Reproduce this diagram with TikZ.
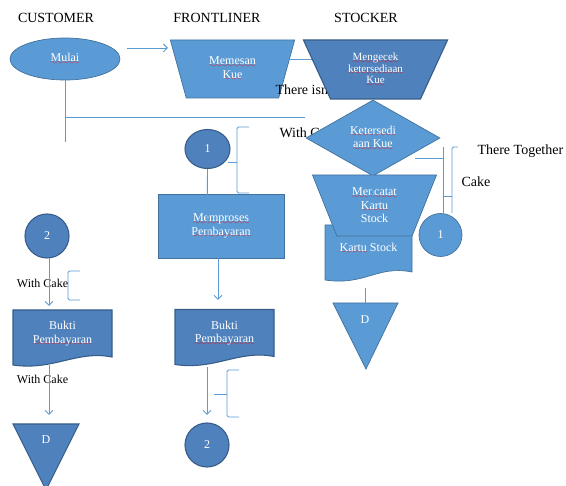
\documentclass[tikz,border=0pt]{standalone}
\usepackage{fontspec}
\setmainfont{Liberation Serif}
\usetikzlibrary{shapes.geometric,arrows.meta,backgrounds}

\definecolor{boxlight}{HTML}{5B9BD5}
\definecolor{edgelight}{HTML}{41719C}
\definecolor{boxdark}{HTML}{4F81BD}
\definecolor{edgedark}{HTML}{385D8A}
\definecolor{flowblue}{HTML}{5B9BD5}

% red spell-check wave under a word
\font\sqfont=lasy7
\newcommand{\sqw}[1]{\setbox0\hbox{#1}%
  \rlap{\textcolor{red}{\lower2.5pt\hbox to \wd0{\xleaders\hbox{\sqfont\char58}\hfill}}}\box0\relax}

% document symbol (wavy bottom) round a named node
\newcommand{\docsymbol}[2]{%
  \path[#2] (#1.north west) -- (#1.north east) -- (#1.south east)
    .. controls +(-35,-7) and +(40,6) .. ([shift={(0,8)}]#1.south west) -- cycle;}

\begin{document}
\begin{tikzpicture}[x=1pt,y=-1pt,
  title/.style={font=\fontsize{14}{16}\selectfont},
  note/.style={font=\fontsize{14}{16}\selectfont},
  small note/.style={font=\fontsize{12}{14}\selectfont},
  inbox/.style={align=center,text=white,font=\fontsize{12}{13.5}\selectfont,inner sep=1pt},
  light/.style={fill=boxlight,draw=edgelight,line width=0.7pt},
  dark/.style={fill=boxdark,draw=edgedark,line width=1.1pt},
  docnode/.style={inbox,rectangle,inner sep=0pt,outer sep=0pt,minimum width=99pt,minimum height=47pt},
  trap/.style={trapezium,trapezium stretches=true,shape border rotate=180},
  flowline/.style={draw=flowblue,line width=0.9pt},
  flowarrow/.style={flowline,-{Straight Barb[length=4pt,width=8pt]}},
  brace/.style={draw=flowblue,line width=0.9pt,rounded corners=1.5pt}]
 \useasboundingbox (0,0) rectangle (566,486);
 % lane titles
 \node (ttl cust) at (56,18) [title] {CUSTOMER};
 \node (ttl front) at (217,18) [title] {FRONTLINER};
 \node (ttl stock) at (366,18) [title] {STOCKER};
 % customer
 \node (cust 1) at (65,59) [light,ellipse,minimum width=110pt,minimum height=42pt,inbox] {\sqw{Mulai}};
 \node (cust 2) at (47,236) [dark,circle,minimum size=44pt,inbox] {2};
 \node (cust 3) at (62.5,333.5) [docnode] {Bukti\\\sqw{Pembayaran}};
 \coordinate (cust 4) at (46,424);
 \path[dark] (13,424) -- (79,424) -- (46,490) -- cycle;
 \node (cust 5) at (46,440) [inbox] {D};
 \draw[brace] (80,271) -- (68,271) -- (68,300) -- (80,300);
 \node (cust txt 1) at (42.5,283) [small note] {With Cake};
 \node (cust txt 2) at (42.5,379) [small note] {With Cake};
 % frontliner
 \node (front 1) at (232.5,69) [light,trap,trapezium angle=72,minimum width=125pt,minimum height=58pt,inbox] {\sqw{Memesan}\\\sqw{Kue}};
 \node (front 2) at (207.5,149) [dark,ellipse,minimum width=45pt,minimum height=39pt,inbox] {1};
 \node (front 3) at (221,226) [light,rectangle,minimum width=126pt,minimum height=64pt,inbox] {\sqw{Memproses}\\\sqw{Pembayaran}};
 \node (front 4) at (224.5,333) [docnode] {Bukti\\\sqw{Pembayaran}};
 \node (front 5) at (207,445) [dark,circle,minimum size=44pt,inbox] {2};
 \draw[brace] (249,127) -- (237,127) -- (237,193) -- (249,193);
 \draw[brace] (237,162) -- (228,162);
 \draw[brace] (239,370) -- (227,370) -- (227,417) -- (239,417);
 \draw[brace] (227,394) -- (214,394);
 % stocker
 \node (stock txt 1) at (276,133) [note,anchor=west] {With Cake};
 \node (stock txt 2) at (272,90) [note,anchor=west] {There isn};
 \node (stock 1) at (375.5,69.5) [dark,trap,trapezium angle=64,minimum width=145pt,minimum height=59pt,inbox,font=\fontsize{11}{11.5}\selectfont] {\sqw{Mengecek}\\\sqw{ketersediaan}\\\sqw{Kue}};
 \node (stock 2) at (373,138) [light,diamond,aspect=1.76,minimum width=134pt,minimum height=76pt,inbox] {\sqw{Ketersedi}\\\sqw{aan Kue}};
 \node (stock 4) at (368.5,248.5) [docnode,minimum width=87pt] {\sqw{Kartu} Stock};
 \node (stock 3) at (374.5,205.5) [light,trap,trapezium angle=67.7,minimum width=125pt,minimum height=61pt,inbox] {\sqw{Mencatat}\\\sqw{Kartu}\\Stock};
 \node (stock 5) at (440.5,235) [light,circle,minimum size=43pt,inbox] {1};
 \coordinate (stock 6) at (365,303);
 \path[light] (333,303) -- (398,303) -- (366,369) -- cycle;
 \node (stock 7) at (365,320) [inbox] {D};
 \node (stock txt 3) at (474,151) [note,anchor=west] {There Together};
 \node (stock txt 4) at (458,182) [note,anchor=west] {Cake};
 \draw[brace] (458,147) -- (452,147) -- (452,213);
 \draw[brace] (452,196) -- (443,196);
 % documents behind
 \begin{scope}[on background layer]
  \docsymbol{cust 3}{dark}
  \docsymbol{front 4}{dark}
  \docsymbol{stock 4}{light}
 \end{scope}
 % connectors
 \draw[flowarrow] ([shift={(62,-11)}]cust 1.center) -- ([shift={(-64.5,-21)}]front 1.center);
 \draw[flowline] ([shift={(57,-10)}]front 1.center) -- ([shift={(-64,-10.5)}]stock 1.center);
 \draw[flowline] (cust 1.south) -- ([shift={(0,83)}]cust 1.center);
 \draw[flowline] ([shift={(0,58)}]cust 1.center) -- ([shift={(-68,-21)}]stock 2.center);
 \draw[flowarrow] ([shift={(-1,15)}]stock 2.center) -- ([shift={(-2.5,-5)}]stock 3.center);
 \draw[flowline] ([shift={(42,20)}]stock 2.center) -- ([shift={(2.5,-77)}]stock 5.center);
 \draw[flowarrow] ([shift={(2.5,-88)}]stock 5.center) -- ([shift={(2.5,22)}]stock 5.center);
 \draw[flowline] ([shift={(-3.5,39.5)}]stock 4.center) -- (stock 6);
 \draw[flowarrow] (front 2.south) -- ([shift={(-14,16)}]front 3.center);
 \draw[flowarrow] ([shift={(-3,32)}]front 3.center) -- ([shift={(-6.5,-33)}]front 4.center);
 \draw[flowarrow] ([shift={(-17.5,34)}]front 4.center) -- ([shift={(0,-30)}]front 5.center);
 \draw[flowarrow] ([shift={(2,22)}]cust 2.center) -- ([shift={(-13.5,-27.5)}]cust 3.center);
 \draw[flowarrow] ([shift={(-13.5,31.5)}]cust 3.center) -- ([shift={(3,-9)}]cust 4);
\end{tikzpicture}
\end{document}
